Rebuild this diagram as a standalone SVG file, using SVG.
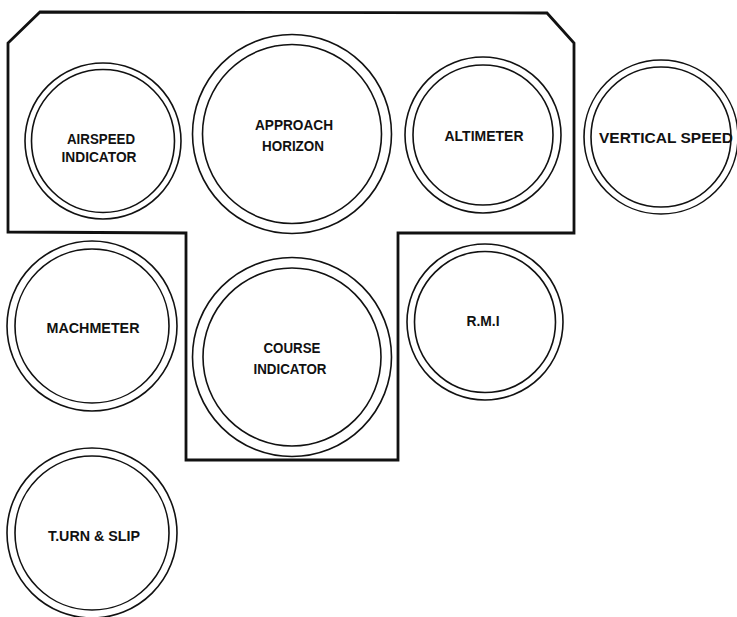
<svg xmlns="http://www.w3.org/2000/svg" width="737" height="617" viewBox="0 0 737 617">
<style>
.panel{fill:none;stroke:#111;stroke-width:2.8;stroke-linejoin:miter}
.ring{fill:none;stroke:#111;stroke-width:1.6}
.lbl{font-family:"Liberation Sans",Arial,sans-serif;font-weight:bold;font-size:14px;fill:#111;text-anchor:middle}
</style>
<rect width="737" height="617" fill="#fff"/>
<g id="connectors">
<path class="panel" d="M40,12 L547,13 L574,43 L574,233 L398,233 L398,460 L186,460 L186,233 L8,232 L8,43 Z"/>
</g>
<g id="airspeed">
<circle class="ring" cx="103" cy="141" r="78"/>
<circle class="ring" cx="103" cy="141" r="71.5"/>
<text class="lbl" x="101" y="144" textLength="68" lengthAdjust="spacingAndGlyphs">AIRSPEED</text>
<text class="lbl" x="99" y="162" textLength="75" lengthAdjust="spacingAndGlyphs">INDICATOR</text>
</g>
<g id="approach-horizon">
<circle class="ring" cx="292" cy="134" r="99.5"/>
<circle class="ring" cx="292" cy="134" r="89.5"/>
<text class="lbl" x="294" y="130" textLength="78" lengthAdjust="spacingAndGlyphs">APPROACH</text>
<text class="lbl" x="293" y="151" textLength="62" lengthAdjust="spacingAndGlyphs">HORIZON</text>
</g>
<g id="altimeter">
<circle class="ring" cx="483" cy="135" r="78"/>
<circle class="ring" cx="483" cy="135" r="70"/>
<text class="lbl" x="484" y="141" textLength="79" lengthAdjust="spacingAndGlyphs">ALTIMETER</text>
</g>
<g id="vertical-speed">
<circle class="ring" cx="661" cy="137" r="77"/>
<circle class="ring" cx="661" cy="137" r="70"/>
<text class="lbl" x="666" y="143" textLength="134" lengthAdjust="spacingAndGlyphs">VERTICAL SPEED</text>
</g>
<g id="machmeter">
<circle class="ring" cx="92" cy="326" r="85"/>
<circle class="ring" cx="92" cy="326" r="77"/>
<text class="lbl" x="93" y="333" textLength="93" lengthAdjust="spacingAndGlyphs">MACHMETER</text>
</g>
<g id="course-indicator">
<circle class="ring" cx="292" cy="357" r="99.5"/>
<circle class="ring" cx="292" cy="357" r="89"/>
<text class="lbl" x="292" y="353" textLength="57" lengthAdjust="spacingAndGlyphs">COURSE</text>
<text class="lbl" x="290" y="374" textLength="73" lengthAdjust="spacingAndGlyphs">INDICATOR</text>
</g>
<g id="rmi">
<circle class="ring" cx="485" cy="322" r="78"/>
<circle class="ring" cx="485" cy="322" r="70.5"/>
<text class="lbl" x="483" y="326" textLength="33" lengthAdjust="spacingAndGlyphs">R.M.I</text>
</g>
<g id="turn-slip">
<circle class="ring" cx="92" cy="533" r="85"/>
<circle class="ring" cx="92" cy="533" r="77"/>
<text class="lbl" x="94" y="541" textLength="92" lengthAdjust="spacingAndGlyphs">T.URN &amp; SLIP</text>
</g>
</svg>
